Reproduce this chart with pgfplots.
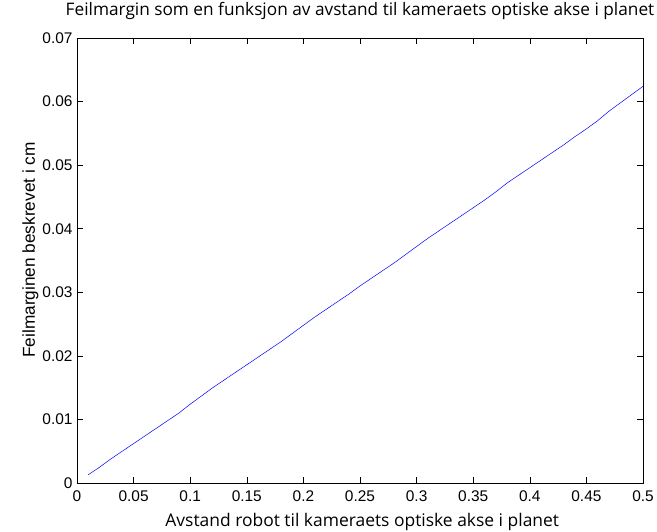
\documentclass[border=0pt]{standalone}
\usepackage{pgfplots}
\pgfplotsset{compat=1.18}
\usepackage{fontspec}
\setmainfont{Open Sans}
\newfontfamily\arialfont{Liberation Sans}
\begin{document}
\begin{tikzpicture}
\begin{axis}[
  scale only axis,
  width=566bp, height=445bp,
  xmin=0, xmax=0.5, ymin=0, ymax=0.07,
  xtick={0,0.05,...,0.5}, ytick={0,0.01,...,0.07},
  xticklabels={0,0.05,0.1,0.15,0.2,0.25,0.3,0.35,0.4,0.45,0.5},
  yticklabels={0,0.01,0.02,0.03,0.04,0.05,0.06,0.07},
  tick align=inside,
  major tick length=6bp,
  tick style={black, line width=0.6pt},
  axis line style={black, line width=0.6pt},
  ticklabel style={font=\arialfont\fontsize{15.5}{17}\selectfont},
  yticklabel style={xshift=-1bp},
  xticklabel style={yshift=-4bp},
  scaled ticks=false,
  title={Feilmargin som en funksjon av avstand til kameraets optiske akse i planet},
  title style={font=\fontsize{17.3}{20}\selectfont, at={(axis description cs:0.5,1)}, anchor=base, yshift=17bp},
  xlabel={Avstand robot til kameraets optiske akse i planet},
  xlabel style={font=\fontsize{17.5}{20}\selectfont, at={(axis description cs:0.504,0)}, anchor=base, yshift=-43bp},
  ylabel={Feilmarginen beskrevet i cm},
  ylabel style={font=\arialfont\fontsize{17.3}{19}\selectfont, at={([xshift=-42bp]axis description cs:0,0.524)}, anchor=base},
]
\addplot[color={rgb,255:red,0;green,0;blue,255}, line width=0.5pt] coordinates {
(0.01,0.0013)(0.02,0.0025)(0.03,0.0038)(0.04,0.0050)(0.05,0.0062)(0.06,0.0074)(0.07,0.0086)(0.08,0.0098)(0.09,0.0110)(0.10,0.0124)
(0.11,0.0137)(0.12,0.0150)(0.13,0.0162)(0.14,0.0174)(0.15,0.0186)(0.16,0.0198)(0.17,0.0210)(0.18,0.0222)(0.19,0.0235)(0.20,0.0248)
(0.21,0.0261)(0.22,0.0273)(0.23,0.0285)(0.24,0.0297)(0.25,0.0310)(0.26,0.0322)(0.27,0.0334)(0.28,0.0346)(0.29,0.0359)(0.30,0.0372)
(0.31,0.0385)(0.32,0.0397)(0.33,0.0409)(0.34,0.0421)(0.35,0.0433)(0.36,0.0445)(0.37,0.0458)(0.38,0.0472)(0.39,0.0484)(0.40,0.0496)
(0.41,0.0508)(0.42,0.0520)(0.43,0.0532)(0.44,0.0545)(0.45,0.0557)(0.46,0.0570)(0.47,0.0585)(0.48,0.0598)(0.49,0.0611)(0.50,0.0624)
};
\end{axis}
\pgfresetboundingbox
\path ([xshift=-77bp,yshift=-48bp]current axis.south west) rectangle ([xshift=14bp,yshift=38bp]current axis.north east);
\end{tikzpicture}
\end{document}
